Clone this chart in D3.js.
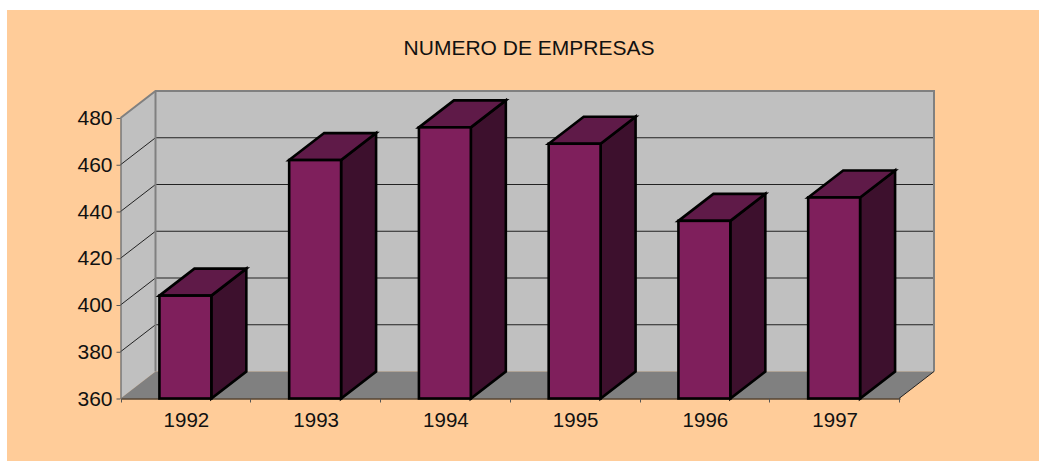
<!DOCTYPE html>
<html>
<head>
<meta charset="utf-8">
<script src="https://cdn.jsdelivr.net/npm/d3@7"></script>
<style>
  html, body { margin: 0; padding: 0; background: #fff; }
  svg { display: block; }
  text { font-family: "Liberation Sans", Arial, sans-serif; fill: #111; }
</style>
</head>
<body>
<svg id="chart" width="1039" height="461"></svg>
<script>
var years = ["1992", "1993", "1994", "1995", "1996", "1997"];
var empresas = [404, 462, 476, 469, 436, 446];
var yTicks = [360, 380, 400, 420, 440, 460, 480];
var chartTitle = "NUMERO DE EMPRESAS";

var svg = d3.select("#chart");

// plot box, front plane
var left = 120.5, right = 899, top_ = 118, bottom = 398.5;
// 3d depth of the box and bars
var dx = 35, dy = -27;

var xScale = d3.scaleBand().domain(years).range([left, right]).paddingInner(0.6).paddingOuter(0.3);
var yScale = d3.scaleLinear().domain([360, 480]).range([bottom, top_]);

function pts(list) {
    return list.map(function (p) { return p[0] + "," + p[1]; }).join(" ");
}

// background
svg.append("rect").attr("x", 7).attr("y", 10).attr("width", 1032).attr("height", 451).attr("fill", "#FFCC99");

// walls and floor
svg.append("polygon")
    .attr("points", pts([[left + dx, top_ + dy], [right + dx, top_ + dy], [right + dx, bottom + dy], [left + dx, bottom + dy]]))
    .attr("fill", "#C0C0C0");
svg.append("polygon")
    .attr("points", pts([[left, top_], [left + dx, top_ + dy], [left + dx, bottom + dy], [left, bottom]]))
    .attr("fill", "#C0C0C0");
svg.append("polygon")
    .attr("points", pts([[left, bottom], [left + dx, bottom + dy], [right + dx, bottom + dy], [right, bottom]]))
    .attr("fill", "#808080");

// gridlines
var grid = svg.append("g");
yTicks.slice(1, -1).forEach(function (t) {
    grid.append("polyline")
        .attr("points", pts([[left, yScale(t)], [left + dx, yScale(t) + dy], [right + dx, yScale(t) + dy]]))
        .attr("fill", "none").attr("stroke", "#222").attr("stroke-width", 1);
});

// wall borders
svg.append("polyline")
    .attr("points", pts([[left, top_], [left + dx, top_ + dy], [right + dx, top_ + dy], [right + dx, bottom + dy]]))
    .attr("fill", "none").attr("stroke", "#808080").attr("stroke-width", 2);
svg.append("line")
    .attr("x1", left + dx).attr("y1", top_ + dy).attr("x2", left + dx).attr("y2", bottom + dy)
    .attr("stroke", "#808080").attr("stroke-width", 2);
svg.append("line")
    .attr("x1", right).attr("y1", bottom).attr("x2", right + dx).attr("y2", bottom + dy)
    .attr("stroke", "#222").attr("stroke-width", 1);

// bars
var bars = svg.append("g").selectAll("g").data(years).enter().append("g")
    .attr("stroke", "#000").attr("stroke-width", 2.6).attr("stroke-linejoin", "miter");

bars.append("polygon")
    .attr("fill", "#3D102D")
    .attr("points", function (d, i) {
        var x1 = xScale(d) + xScale.bandwidth(), y = yScale(empresas[i]);
        return pts([[x1, y], [x1 + dx, y + dy], [x1 + dx, bottom + dy], [x1, bottom]]);
    });
bars.append("polygon")
    .attr("fill", "#5F1A48")
    .attr("points", function (d, i) {
        var x0 = xScale(d), x1 = x0 + xScale.bandwidth(), y = yScale(empresas[i]);
        return pts([[x0, y], [x0 + dx, y + dy], [x1 + dx, y + dy], [x1, y]]);
    });
bars.append("rect")
    .attr("fill", "#7F1F5C")
    .attr("x", function (d) { return xScale(d); })
    .attr("y", function (d, i) { return yScale(empresas[i]); })
    .attr("width", xScale.bandwidth())
    .attr("height", function (d, i) { return bottom - yScale(empresas[i]); });

// axes
var yAxis = svg.append("g")
    .attr("transform", "translate(" + left + ",0)")
    .call(d3.axisLeft(yScale).tickValues(yTicks).tickSize(4).tickPadding(4).tickSizeOuter(0));
yAxis.select(".domain").attr("stroke", "#555").attr("stroke-width", 1);
yAxis.selectAll("line").attr("stroke", "#555");
yAxis.selectAll("text").style("font-size", "21px");

var xAxis = svg.append("g")
    .attr("transform", "translate(1," + bottom + ")")
    .call(d3.axisBottom(xScale).tickSize(0).tickPadding(14).tickSizeOuter(0));
xAxis.select(".domain").attr("stroke", "#000").attr("stroke-width", 1);
xAxis.selectAll("text").style("font-size", "20.5px");

// x ticks sit between the categories
years.concat([null]).forEach(function (d, i) {
    var x = Math.round(left + i * xScale.step()) - 0.5;
    xAxis.append("line").attr("x1", x).attr("x2", x).attr("y1", 0).attr("y2", 4).attr("stroke", "#555");
});

// title
svg.append("text")
    .attr("x", 529)
    .attr("y", 55)
    .attr("text-anchor", "middle")
    .style("font-size", "21px")
    .text(chartTitle);
</script>
</body>
</html>
